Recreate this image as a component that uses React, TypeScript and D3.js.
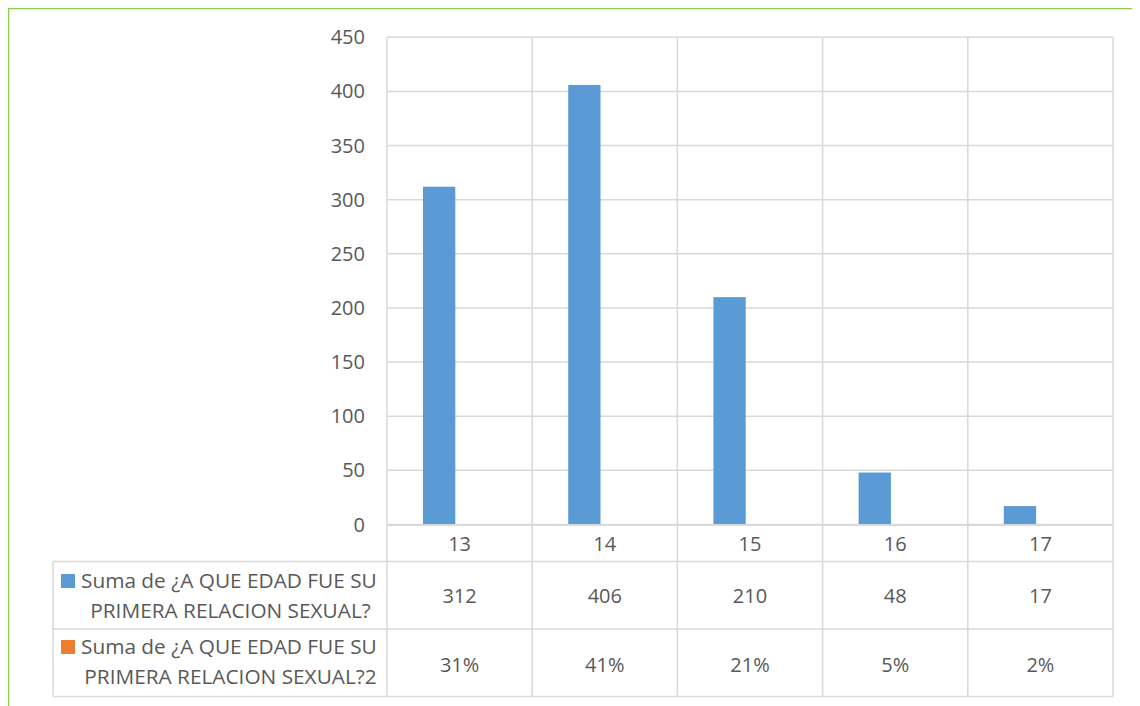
import React from "react";
import * as d3 from "d3";

const categories = ["13", "14", "15", "16", "17"];
const seriesNames = [
  ["Suma de ¿A QUE EDAD FUE SU", "PRIMERA RELACION SEXUAL?"],
  ["Suma de ¿A QUE EDAD FUE SU", "PRIMERA RELACION SEXUAL?2"],
];
const countValues = [312, 406, 210, 48, 17];
const percentValues = [0.31, 0.41, 0.21, 0.05, 0.02];
const yTicks = [0, 50, 100, 150, 200, 250, 300, 350, 400, 450];
const colors = ["#5b9bd5", "#ed7d31"];

const W = 1140;
const H = 706;
const plotLeft = 387;
const plotRight = 1113;
const plotTop = 37.3;
const plotBottom = 524.5;
const tableLeft = 53;
const rowLines = [561.5, 629, 696.5];
const grid = "#d9d9d9";
const textColor = "#595959";
const font = "'Open Sans', sans-serif";
const fs = 20;
const legendFs = 20.8;

export default function App() {
  const x = d3.scaleBand<string>().domain(categories).range([plotLeft, plotRight]).padding(0);
  const bw = x.bandwidth();
  const xs = d3
    .scaleBand<string>()
    .domain(["a", "b"])
    .range([0.248 * bw, 0.693 * bw])
    .padding(0);
  const y = d3.scaleLinear().domain([0, 450]).range([plotBottom, plotTop]);
  const series = [countValues, percentValues];
  const fmtPct = d3.format(".0%");

  return (
    <svg width={W - 8} height={H - 8} style={{ display: "block", overflow: "visible" }}>
      <g transform="translate(-8,-8)">
        <rect x={0} y={0} width={W} height={H} fill="#fff" />
        {/* green border */}
        <line x1={7} y1={8.2} x2={W + 10} y2={8.2} stroke="#8fce4c" strokeWidth={2.2} />
        <line x1={8.2} y1={7} x2={8.2} y2={H + 10} stroke="#8fce4c" strokeWidth={2.2} />

        {/* horizontal gridlines */}
        {yTicks.map((t) => (
          <line key={"g" + t} x1={plotLeft} x2={plotRight} y1={y(t)} y2={y(t)} stroke={grid} strokeWidth={1.5} />
        ))}
        {/* vertical column lines through plot and table */}
        {categories.map((c) => (
          <line key={"v" + c} x1={x(c)!} x2={x(c)!} y1={plotTop} y2={rowLines[2]} stroke={grid} strokeWidth={1.5} />
        ))}
        <line x1={plotRight} x2={plotRight} y1={plotTop} y2={rowLines[2]} stroke={grid} strokeWidth={1.5} />
        {/* table lines */}
        {rowLines.map((r) => (
          <line key={"r" + r} x1={tableLeft} x2={plotRight} y1={r} y2={r} stroke={grid} strokeWidth={1.5} />
        ))}
        <line x1={tableLeft} x2={tableLeft} y1={rowLines[0]} y2={rowLines[2]} stroke={grid} strokeWidth={1.5} />

        {/* bars */}
        {series.map((vals, si) =>
          vals.map((v, i) => (
            <rect
              key={"b" + si + i}
              x={x(categories[i])! + xs(si === 0 ? "a" : "b")!}
              y={y(v)}
              width={xs.bandwidth()}
              height={plotBottom - y(v)}
              fill={colors[si]}
            />
          ))
        )}
        {/* category axis line over bars */}
        <line x1={plotLeft} x2={plotRight} y1={y(0) + 0.4} y2={y(0) + 0.4} stroke={grid} strokeWidth={2} />

        {/* y tick labels */}
        {yTicks.map((t) => (
          <text key={"t" + t} x={365} y={y(t) + 7} textAnchor="end" fontFamily={font} fontSize={fs} fill={textColor}>
            {t}
          </text>
        ))}

        {/* category labels */}
        {categories.map((c) => (
          <text key={"c" + c} x={x(c)! + bw / 2} y={551} textAnchor="middle" fontFamily={font} fontSize={fs} fill={textColor}>
            {c}
          </text>
        ))}

        {/* table values */}
        {countValues.map((v, i) => (
          <text key={"cv" + i} x={x(categories[i])! + bw / 2} y={603} textAnchor="middle" fontFamily={font} fontSize={fs} fill={textColor}>
            {v}
          </text>
        ))}
        {percentValues.map((v, i) => (
          <text key={"pv" + i} x={x(categories[i])! + bw / 2} y={672} textAnchor="middle" fontFamily={font} fontSize={fs} fill={textColor}>
            {fmtPct(v)}
          </text>
        ))}

        {/* legend cells */}
        {seriesNames.map((lines, si) => {
          const base = si === 0 ? 588 : 654;
          return (
            <g key={"l" + si}>
              <rect x={61} y={base - 14} width={14} height={14} fill={colors[si]} />
              <text x={81} y={base} fontFamily={font} fontSize={legendFs} fill={textColor}>
                {lines[0]}
              </text>
              <text x={230.5} y={base + 29.5} textAnchor="middle" fontFamily={font} fontSize={legendFs} fill={textColor}>
                {lines[1]}
              </text>
            </g>
          );
        })}
      </g>
    </svg>
  );
}
